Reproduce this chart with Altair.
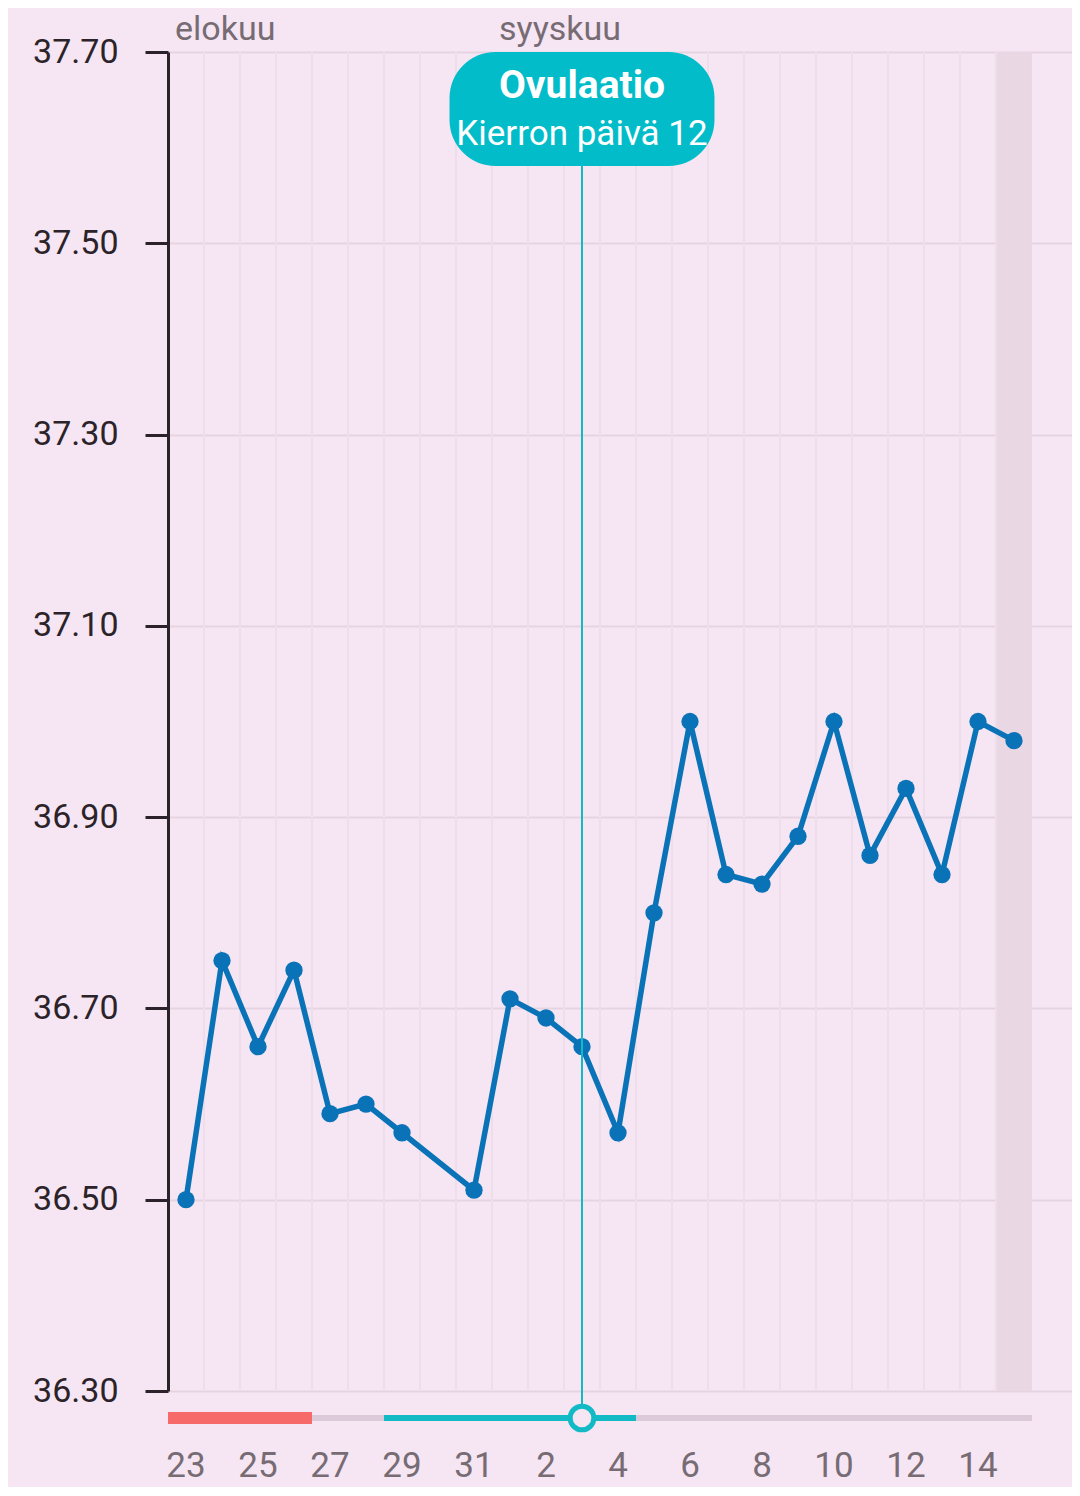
import altair as alt
import pandas as pd

# ---- data ----
day_labels = [23, 24, 25, 26, 27, 28, 29, 30, 31,
              1, 2, 3, 4, 5, 6, 7, 8, 9, 10, 11, 12, 13, 14, 15]
temps = [36.50, 36.75, 36.66, 36.74, 36.59, 36.60, 36.57, None, 36.51,
         36.71, 36.69, 36.66, 36.57, 36.80, 37.00, 36.84, 36.83, 36.88,
         37.00, 36.86, 36.93, 36.84, 37.00, 36.98]
month_names = ["elokuu", "syyskuu"]
month_start = [0, 9]            # day index where each month starts
period_range = [0, 3]           # day indices (first, last)
fertile_range = [6, 12]
ovulation_day = 11
ovulation_title = "Ovulaatio"
ovulation_sub = "Kierron päivä 12"
today_day = 23
y_ticks = [36.30, 36.50, 36.70, 36.90, 37.10, 37.30, 37.50, 37.70]

# ---- layout / style ----
W, H = 904, 1339
BG = "#F6E6F3"
LINE = "#0A73B8"
TEAL = "#12BAC6"
RED = "#F76A6A"
TRACK = "#DCCADB"
GREY_TXT = "#776C74"
DARK = "#2B2329"
FONT = "Roboto"

n = len(day_labels)
df = pd.DataFrame({"i": list(range(n)), "day": day_labels, "temp": temps})
df_line = df.dropna()

xs = alt.Scale(domain=[-0.5, -0.5 + W / 36.0], nice=False, zero=False)
ys = alt.Scale(domain=[y_ticks[0], y_ticks[-1]], nice=False, zero=False)
yaxis = alt.Axis(values=y_ticks, format=".2f", labelFontSize=34, labelColor=DARK,
                 labelFont=FONT, tickSize=23, tickWidth=3, tickColor=DARK,
                 domainColor=DARK, domainWidth=3, labelPadding=27,
                 grid=True, gridColor="#E6D3E2", gridWidth=2, title=None)

# today shade
shade = alt.Chart(pd.DataFrame({"i": [today_day]})).transform_calculate(
    a="datum.i - 0.5", b="datum.i + 0.5"
).mark_rect(color="#E9D8E4").encode(
    x=alt.X("a:Q", scale=xs, axis=None), x2="b:Q",
    y=alt.value(0), y2=alt.value(H))

# vertical grid
vgrid = alt.Chart(pd.DataFrame({"i": list(range(n - 1))})).transform_calculate(
    b="datum.i + 0.5"
).mark_rule(color="#EEDDEA", strokeWidth=2).encode(
    x=alt.X("b:Q", scale=xs, axis=None), y=alt.value(0), y2=alt.value(H))

line = alt.Chart(df_line).mark_line(color=LINE, strokeWidth=5.5).encode(
    x=alt.X("i:Q", scale=xs, axis=None),
    y=alt.Y("temp:Q", scale=ys, axis=yaxis))
pts = alt.Chart(df_line).mark_circle(color=LINE, size=300, opacity=1).encode(
    x=alt.X("i:Q", scale=xs, axis=None),
    y=alt.Y("temp:Q", scale=ys, axis=yaxis))

ov_df = pd.DataFrame({"i": [ovulation_day], "t1": [ovulation_title], "t2": [ovulation_sub]})
ov_rule = alt.Chart(ov_df).mark_rule(color=TEAL, strokeWidth=2).encode(
    x=alt.X("i:Q", scale=xs, axis=None), y=alt.value(110), y2=alt.value(1366))
ov_box = alt.Chart(ov_df).transform_calculate(
    a="datum.i - 3.68", b="datum.i + 3.68"
).mark_rect(color="#02BCC9", cornerRadius=46).encode(
    x=alt.X("a:Q", scale=xs, axis=None), x2="b:Q",
    y=alt.value(0), y2=alt.value(114))
ov_t1 = alt.Chart(ov_df).mark_text(font=FONT, fontSize=39, fontWeight="bold",
                                   color="white", baseline="middle").encode(
    x=alt.X("i:Q", scale=xs, axis=None), y=alt.value(34), text="t1:N")
ov_t2 = alt.Chart(ov_df).mark_text(font=FONT, fontSize=35, color="white",
                                   baseline="middle").encode(
    x=alt.X("i:Q", scale=xs, axis=None), y=alt.value(82), text="t2:N")

# bottom cycle bar
track = alt.Chart(pd.DataFrame({"a": [-0.5], "b": [n - 0.5]})).mark_rule(
    color=TRACK, strokeWidth=6).encode(
    x=alt.X("a:Q", scale=xs, axis=None), x2="b:Q", y=alt.value(1366))
period = alt.Chart(pd.DataFrame({"s": [period_range[0]], "e": [period_range[1]]})).transform_calculate(
    a="datum.s - 0.5", b="datum.e + 0.5"
).mark_rule(color=RED, strokeWidth=12).encode(
    x=alt.X("a:Q", scale=xs, axis=None), x2="b:Q", y=alt.value(1366))
fertile = alt.Chart(pd.DataFrame({"s": [fertile_range[0]], "e": [fertile_range[1]]})).transform_calculate(
    a="datum.s - 0.5", b="datum.e + 0.5"
).mark_rule(color=TEAL, strokeWidth=6).encode(
    x=alt.X("a:Q", scale=xs, axis=None), x2="b:Q", y=alt.value(1366))
marker = alt.Chart(ov_df).mark_point(shape="circle", filled=True, fill=BG, stroke=TEAL,
                                     strokeWidth=5, size=560, opacity=1).encode(
    x=alt.X("i:Q", scale=xs, axis=None), y=alt.value(1366))

# day labels
day_txt = alt.Chart(df[df["i"] % 2 == 0]).mark_text(
    font=FONT, fontSize=35, color=GREY_TXT, baseline="middle").encode(
    x=alt.X("i:Q", scale=xs, axis=None), y=alt.value(1414), text="day:N")

# month labels
mdf = pd.DataFrame({"i": month_start, "m": month_names})
month_txt = alt.Chart(mdf).transform_calculate(a="datum.i - 0.5").mark_text(
    font=FONT, fontSize=34, color=GREY_TXT, align="left", baseline="middle", dx=7).encode(
    x=alt.X("a:Q", scale=xs, axis=None), y=alt.value(-22), text="m:N")

chart = alt.layer(shade, vgrid, line, pts, ov_rule, ov_box, ov_t1, ov_t2,
                  track, period, fertile, marker, day_txt, month_txt).properties(
    width=W, height=H,
    autosize=alt.AutoSizeParams(type="none"),
    padding={"left": 160, "top": 44, "right": 0, "bottom": 96},
    background=BG,
).configure_view(strokeWidth=0)

chart.save("out.html", embed_options={"renderer": "svg", "actions": False})
